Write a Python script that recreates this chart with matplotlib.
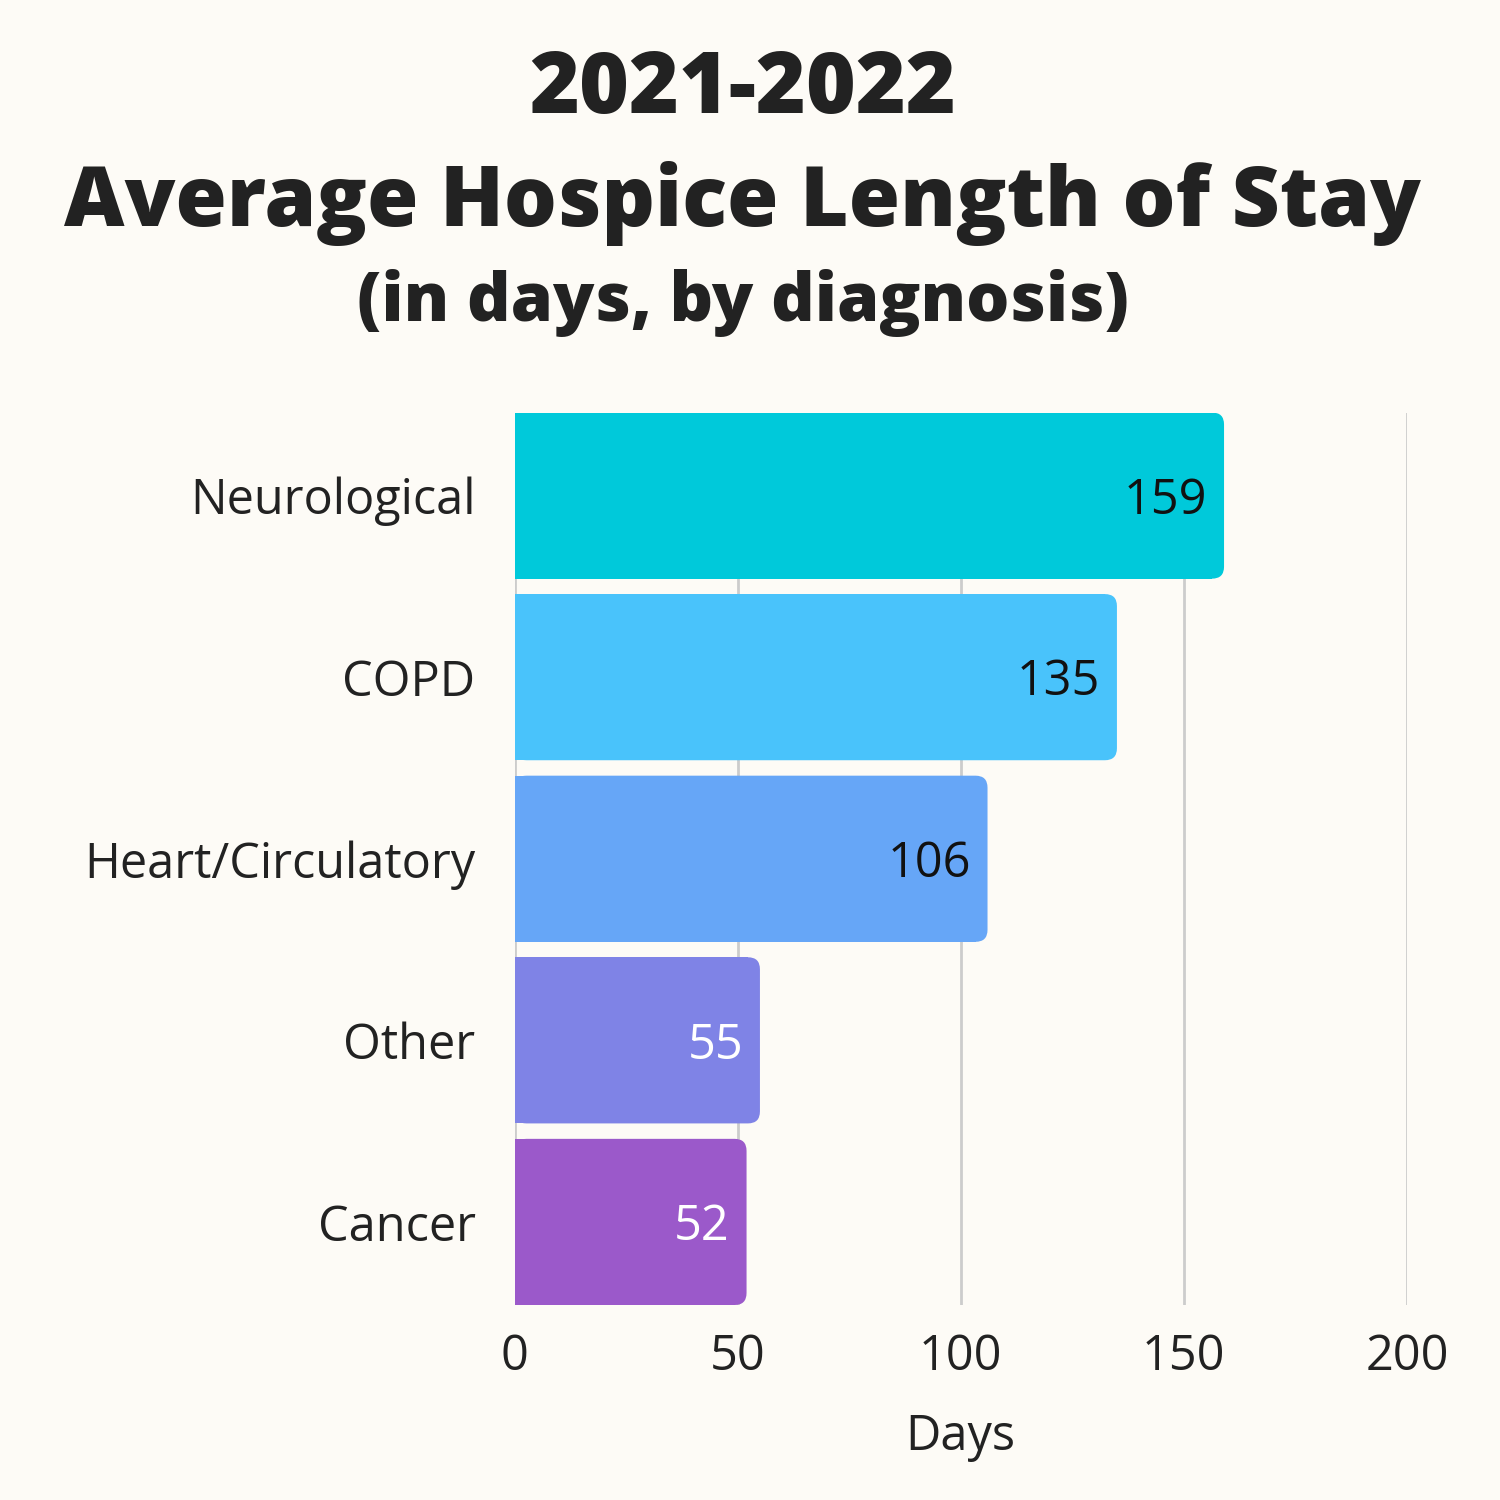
import matplotlib.pyplot as plt
from matplotlib.patches import FancyBboxPatch
import numpy as np

plt.rcParams['font.family'] = ['Open Sans', 'DejaVu Sans']

categories = ["Neurological", "COPD", "Heart/Circulatory", "Other", "Cancer"]
days = [159, 135, 106, 55, 52]
colors = ["#00C9DA", "#49C3FB", "#66A6F7", "#7F83E6", "#9B59CA"]
label_colors = ["#111111", "#111111", "#111111", "#FFFFFF", "#FFFFFF"]
xticks = [0, 50, 100, 150, 200]

bg = "#FDFBF6"
dark = "#222222"

fig = plt.figure(figsize=(15, 15), dpi=100, facecolor=bg)
ax = fig.add_axes([0.343, 0.13, 0.595, 0.595], facecolor=bg)

y = np.arange(len(categories))
h = 0.915
ax.set_xlim(0, 200)
ax.set_ylim(len(categories) - 0.5 - (1 - h) / 2, -0.5 + (1 - h) / 2)

# corner radius in px -> data units
r_px = 12
px_x = 0.595 * 1500 / 200
px_y = 0.595 * 1500 / (len(categories) - (1 - h))
rx = r_px / px_x
ry = r_px / px_y

for yi, v, c in zip(y, days, colors):
    box = FancyBboxPatch((0, yi - h / 2), v, h,
                         boxstyle=f"round,pad=0,rounding_size={rx}",
                         mutation_aspect=ry / rx, facecolor=c, edgecolor="none", zorder=3)
    ax.add_patch(box)
ax.barh(y, np.array(days) - rx, height=h, color=colors, zorder=3)

for yi, v, lc in zip(y, days, label_colors):
    ax.annotate(str(v), (v, yi), xytext=(-12, -4), textcoords="offset points",
                ha="right", va="center", fontsize=35, color=lc, zorder=4)

ax.set_yticks(y)
ax.set_yticklabels(categories, fontsize=35, color=dark)
ax.set_xticks(xticks)
ax.set_xticklabels([str(t) for t in xticks], fontsize=35, color=dark)
ax.tick_params(axis="y", length=0, pad=28)
ax.tick_params(axis="x", length=0, pad=20)
ax.grid(axis="x", color="#CCCCCC", linewidth=2, zorder=0)
ax.set_axisbelow(True)
for s in ax.spines.values():
    s.set_visible(False)
ax.set_xlabel("Days", fontsize=35, color=dark, labelpad=22)

fig.text(0.495, 1 - 90 / 1500, "2021-2022", ha="center", va="center",
         fontsize=61.5, fontweight="heavy", color=dark)
fig.text(0.495, 1 - 204 / 1500, "Average Hospice Length of Stay", ha="center", va="center",
         fontsize=60, fontweight="heavy", color=dark)
fig.text(0.495, 1 - 303 / 1500, "(in days, by diagnosis)", ha="center", va="center",
         fontsize=49, fontweight="heavy", color=dark)

fig.savefig("out.png", dpi=100, facecolor=bg)
